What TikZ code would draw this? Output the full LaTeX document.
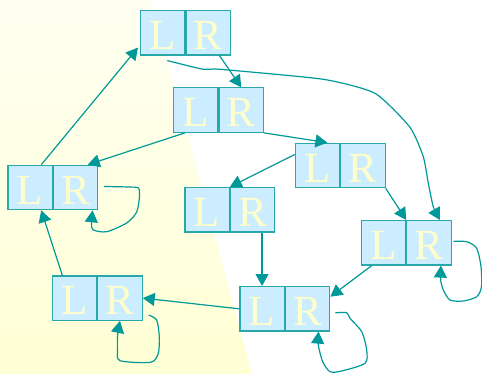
\documentclass[tikz,border=0pt]{standalone}
\usepackage{fontspec}
\setmainfont{Liberation Serif}
\usetikzlibrary{arrows.meta,calc}
\definecolor{cellfill}{RGB}{204,236,255}
\definecolor{cellline}{RGB}{40,168,168}
\definecolor{arrcol}{RGB}{0,153,153}
\definecolor{lettercol}{RGB}{255,255,204}
\definecolor{bgtop}{RGB}{255,255,242}
\definecolor{bgbot}{RGB}{255,255,212}
\tikzset{
  cell/.style={draw=cellline, fill=cellfill, line width=1.2pt, inner sep=0pt,
    minimum width=44.3pt, minimum height=44.4pt, text=lettercol,
    font=\fontsize{43}{43}\selectfont, text height=35pt, text depth=1.5pt},
  arr/.style={draw=arrcol, line width=1.2pt, -{Triangle[length=12pt,width=13pt]}},
}
\newcommand\LRpair[3]{%
  \node[cell,anchor=north west] (#1L) at (#2,#3) {L};
  \node[cell,anchor=north west] (#1R) at (#1L.north east) {R};}
\begin{document}
\begin{tikzpicture}[x=1pt,y=-1pt]
\useasboundingbox (0,0) rectangle (482,374);
\fill[white] (0,0) rectangle (482,374);
\shade[top color=bgtop,bottom color=bgbot] (0,0) -- (151,0) -- (252,374) -- (0,374) -- cycle;
\LRpair{a}{140}{10}
\LRpair{b}{173}{87.3}
\LRpair{c}{7.3}{164.7}
\LRpair{d}{294.7}{142.7}
\LRpair{e}{184.3}{187}
\LRpair{f}{360.7}{220}
\LRpair{g}{51.7}{275.3}
\LRpair{h}{239.3}{286}
% straight connectors
\draw[arr] ($(cL.north)+(11.2,0)$) -- ($(aL.south west)+(-2,-8)$);
\draw[arr] ($(aR.south)+(11.2,0)$) -- (bR.north);
\draw[arr] ($(bL.south)+(-10.9,0)$) -- ($(cR.north)+(12.2,0)$);
\draw[arr] (bR.south east) -- ($(dL.north)+(10,0)$);
\draw[arr] ($(dL.west)+(0,-11)$) -- (eR.north west);
\draw[arr] (dR.south east) -- (fL.north east);
\draw[arr] (hL.north |- eR.south) -- (hL.north);
\draw[arr] ($(fL.south west)+(11,0)$) -- ($(hR.north east)+(0,10.7)$);
\draw[arr] (hL.west) -- (gR.east);
\draw[arr] ($(gL.north west)+(10.6,0)$) -- ($(cL.south)+(11.2,0)$);
% long curve
\draw[arr] plot[smooth,tension=0.35] coordinates {($(aL.south)+(4.5,5)$) (203.3,69.3) (220,69.3) (323.3,79.3) (375,93.3) (410,127.3) (423.3,156.7) (428.3,183.3) (433.3,206.7) ($(fR.north)+(11,0)$)};
% self loops
\draw[arr] plot[smooth,tension=0.45] coordinates {($(cR.east)+(5.7,-1)$) (128,187) (138.3,188) (139.5,196) (136.7,212) (126.7,223) (106.7,231.7) (93.3,230) (91.5,224) ($(cR.south)+(17,0)$)};
\draw[arr] plot[smooth,tension=0.45] coordinates {($(gR.east)+(6,17)$) (156.7,320) (159.3,336.7) (158.3,353.3) (150.7,362.3) (120,360.7) (117.5,350) (117.7,334) (gR.south)};
\draw[arr] plot[smooth,tension=0.45] coordinates {($(hR.east)+(5,4)$) (346.7,312.7) (350,318.3) (361.7,331.7) (366.7,350) (365,363.3) (341.7,371) (330,371.7) (322.7,361.7) (318.3,345) ($(hR.south)+(11,0)$)};
\draw[arr] plot[smooth,tension=0.45] coordinates {($(fR.east)+(1.7,-1.4)$) (466.7,241.7) (476.7,248.3) (481,266.7) (481.5,286.7) (476.7,296.7) (463.3,301) (450,300) (443.3,290) (440.7,280) ($(fR.south)+(12,0)$)};
\end{tikzpicture}
\end{document}
